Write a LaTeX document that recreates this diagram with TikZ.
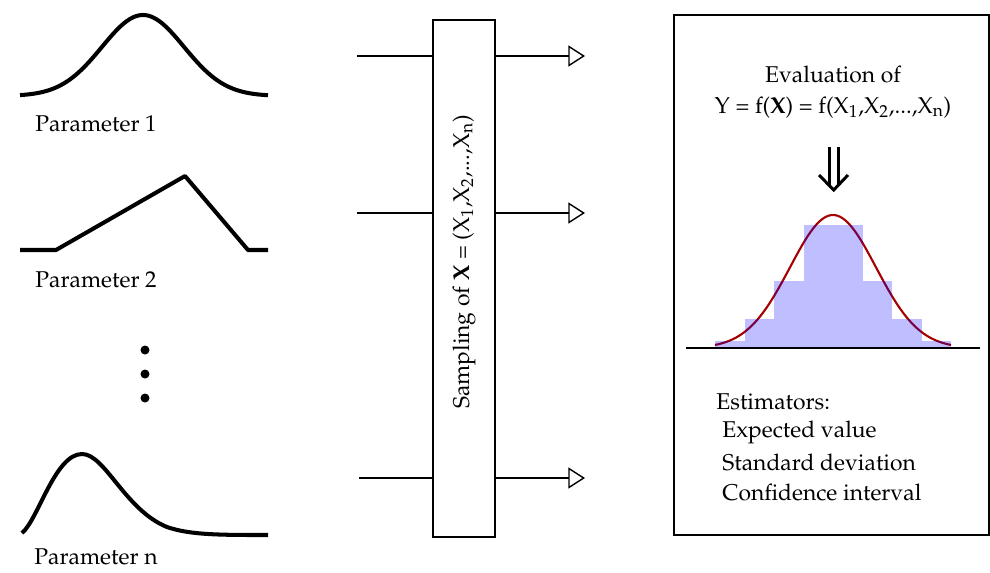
\documentclass[tikz,border=0pt]{standalone}
\usepackage[T1]{fontenc}
\usepackage{mathpazo}
\usetikzlibrary{arrows.meta,calc}
\begin{document}
\begin{tikzpicture}[x=0.02cm,y=-0.02cm,every node/.style={font=\fontsize{13}{17.5}\selectfont,inner sep=0pt},
	curve/.style={line width=2.3pt,line join=round},
	flow/.style={line width=0.8pt},
	outflow/.style={flow,-{Triangle[open,length=9.5pt,width=12pt]}}]
	\useasboundingbox(0,0)rectangle(990,572);
	\draw[curve,domain=20:268,samples=80]plot(\x,{96-81*exp(-(\x-143)*(\x-143)/3362)});
	\draw[curve](20,250)--(56,250)--(185,176)--(248,250)--(268,250);
	\draw[curve](22,533)..controls(38,520)and(55,454)..(82,454)..controls(105,454)and(125,510)..(167,527)..controls(190,535)and(220,535)..(268,535);
	\node(p1)at(96,124){Parameter 1};
	\node(p2)at(96,280){Parameter 2};
	\node(pn)at(96,557){Parameter n};
	\foreach \y in {350,374,398}\fill(145,\y)circle(4.5);
	\node(samp)at(464,278.5)[draw,line width=0.8pt,minimum width=1.24cm,minimum height=10.34cm]{};
	\node(stext)at(464,262)[rotate=90]{Sampling of \textbf{X} = (X\textsubscript{1},X\textsubscript{2},...,X\textsubscript{n})};
	\coordinate(in1)at(357,56);\coordinate(in2)at(357,213);\coordinate(inn)at(359,478);
	\coordinate(o1)at(585,56);\coordinate(o2)at(585,213);\coordinate(on)at(585,478);
	\draw[flow](in1)--(in1-|samp.west);\draw[outflow](in1-|samp.east)--(o1);
	\draw[flow](in2)--(in2-|samp.west);\draw[outflow](in2-|samp.east)--(o2);
	\draw[flow](inn)--(inn-|samp.west);\draw[outflow](inn-|samp.east)--(on);
	\node(eval)at(831.5,275)[draw,line width=0.8pt,minimum width=6.3cm,minimum height=10.4cm]{};
	\node(evtxt)at(833,92)[align=center]{Evaluation of\\Y = f(\textbf{X}) = f(X\textsubscript{1},X\textsubscript{2},...,X\textsubscript{n})};
	\draw[line width=1.7pt](829,147)--(829,185)(838.5,147)--(838.5,185);
	\draw[line width=1.7pt,line join=miter](819,175)--(833.7,190)--(848,175);
	\draw[red!65!black,line width=1.2pt,domain=715:951,samples=80]plot(\x,{348-133*exp(-(\x-833)*(\x-833)/3698)});
	\foreach \xa/\h in {715/341,744.5/319,774/281,803.5/225,833/225,862.5/281,892/319,921.5/341}
		\fill[blue,opacity=0.25](\xa,348)rectangle(\xa+29.5,\h);
	\draw[line width=1.2pt](686,348)--(980,348);
	\node(est)at(716,402)[anchor=west]{Estimators:};
	\node(ev)at(722,432)[anchor=west]{Expected value};
	\node(sd)at(722,462)[anchor=west]{Standard deviation};
	\node(ci)at(722,492)[anchor=west]{Confidence interval};
\end{tikzpicture}
\end{document}
